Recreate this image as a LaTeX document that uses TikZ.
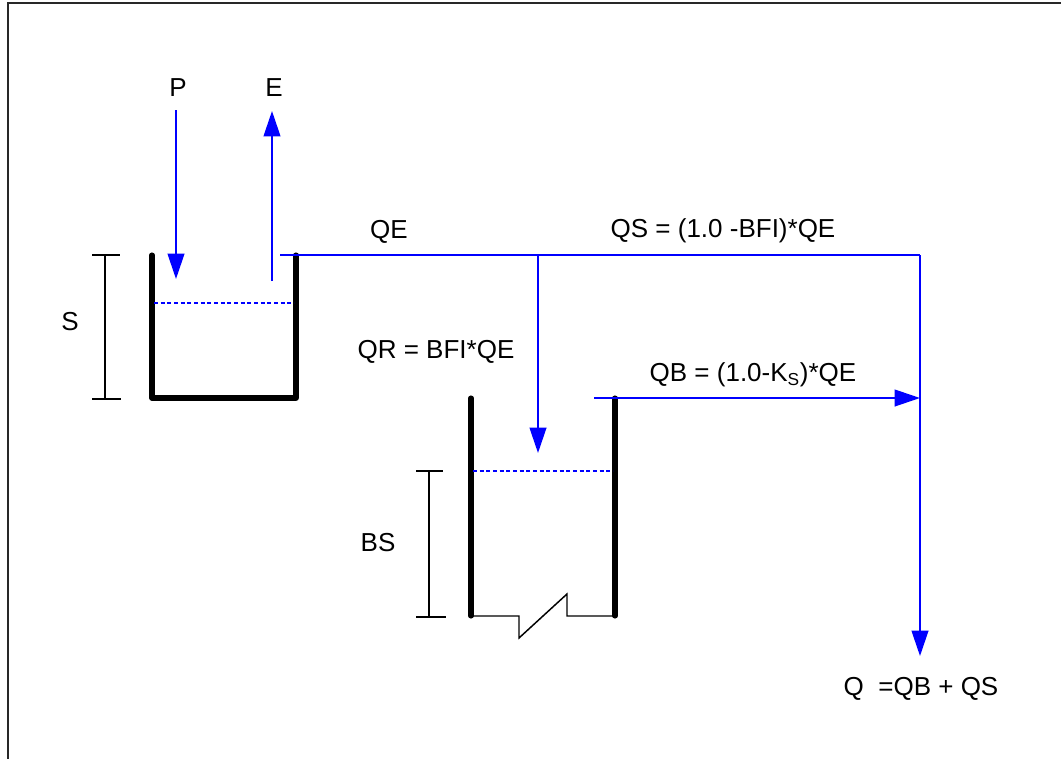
\documentclass[tikz,border=0pt]{standalone}
\usepackage{fontspec}
\setmainfont{Liberation Sans}
\usetikzlibrary{arrows.meta}
\begin{document}
\begin{tikzpicture}[x=0.75pt,y=-0.75pt,
  flow/.style={draw={rgb,255:red,0;green,0;blue,255},line width=1.5pt},
  flowarrow/.style={flow,-{Triangle[length=19pt,width=12.5pt]}},
  wall/.style={draw=black,line width=3.8pt,line cap=round,line join=round},
  level/.style={draw={rgb,255:red,0;green,0;blue,255},line width=1.2pt,dash pattern=on 3pt off 2pt},
  thin/.style={draw=black,line width=1.1pt},
  lbl/.style={font=\fontsize{19.5pt}{23pt}\selectfont,inner sep=0pt}]
\useasboundingbox (0,0) rectangle (1061,758);
% frame
\draw[draw={rgb,255:red,40;green,40;blue,40},line width=2pt] (8,760) -- (8,3) -- (1063,3);
% coordinates
\coordinate (pstart) at (176,110);
\coordinate (pend) at (176,279);
\coordinate (estart) at (272,281);
\coordinate (eend) at (272,111);
\coordinate (qestart) at (280,255);
\coordinate (branch) at (538,255);
\coordinate (corner) at (920,255);
\coordinate (qrend) at (538,453);
\coordinate (qbstart) at (594,398);
\coordinate (junction) at (920,398);
\coordinate (qend) at (920,656);
% tank 1
\draw[wall] (152,255) -- (152,398) -- (296,398) -- (296,255);
\draw[level] (154,303) -- (294,303);
% S bracket
\draw[thin] (105,255) -- (105,399);
\draw[thin] (92,255) -- (120,255);
\draw[thin] (92,399) -- (121,399);
\node[lbl] (s) at (70,322) {S};
% tank 2
\draw[wall] (471,398) -- (471,616);
\draw[wall] (615,398) -- (615,616);
\draw[thin] (471,616) -- (519,616) -- (519,638) -- (567,594) -- (567,616) -- (615,616);
\draw[level] (473,471) -- (613,471);
% BS bracket
\draw[thin] (429,471) -- (429,617);
\draw[thin] (416,471) -- (443,471);
\draw[thin] (416,617) -- (446,617);
\node[lbl] (bs) at (378,543) {BS};
% flows
\node[lbl] (p) at (178,88) {P};
\node[lbl] (e) at (274,88) {E};
\draw[flowarrow] (pstart) -- (pend);
\draw[flowarrow] (estart) -- (eend);
\draw[flow] (qestart) -- (corner);
\draw[flowarrow] (corner) -- (qend);
\draw[flowarrow] (branch) -- (qrend);
\draw[flowarrow] (qbstart) -- (junction);
% labels
\node[lbl] (qe) at (389,232) {QE};
\node[lbl] (qs) at (723,231) {QS = (1.0 -BFI)*QE};
\node[lbl] (qr) at (436,352) {QR = BFI*QE};
\node[lbl] (qb) at (753,375) {QB = (1.0-K\textsubscript{\fontsize{13pt}{15pt}\selectfont S})*QE};
\node[lbl] (q) at (921,689) {Q\ \ =QB + QS};
\end{tikzpicture}
\end{document}
